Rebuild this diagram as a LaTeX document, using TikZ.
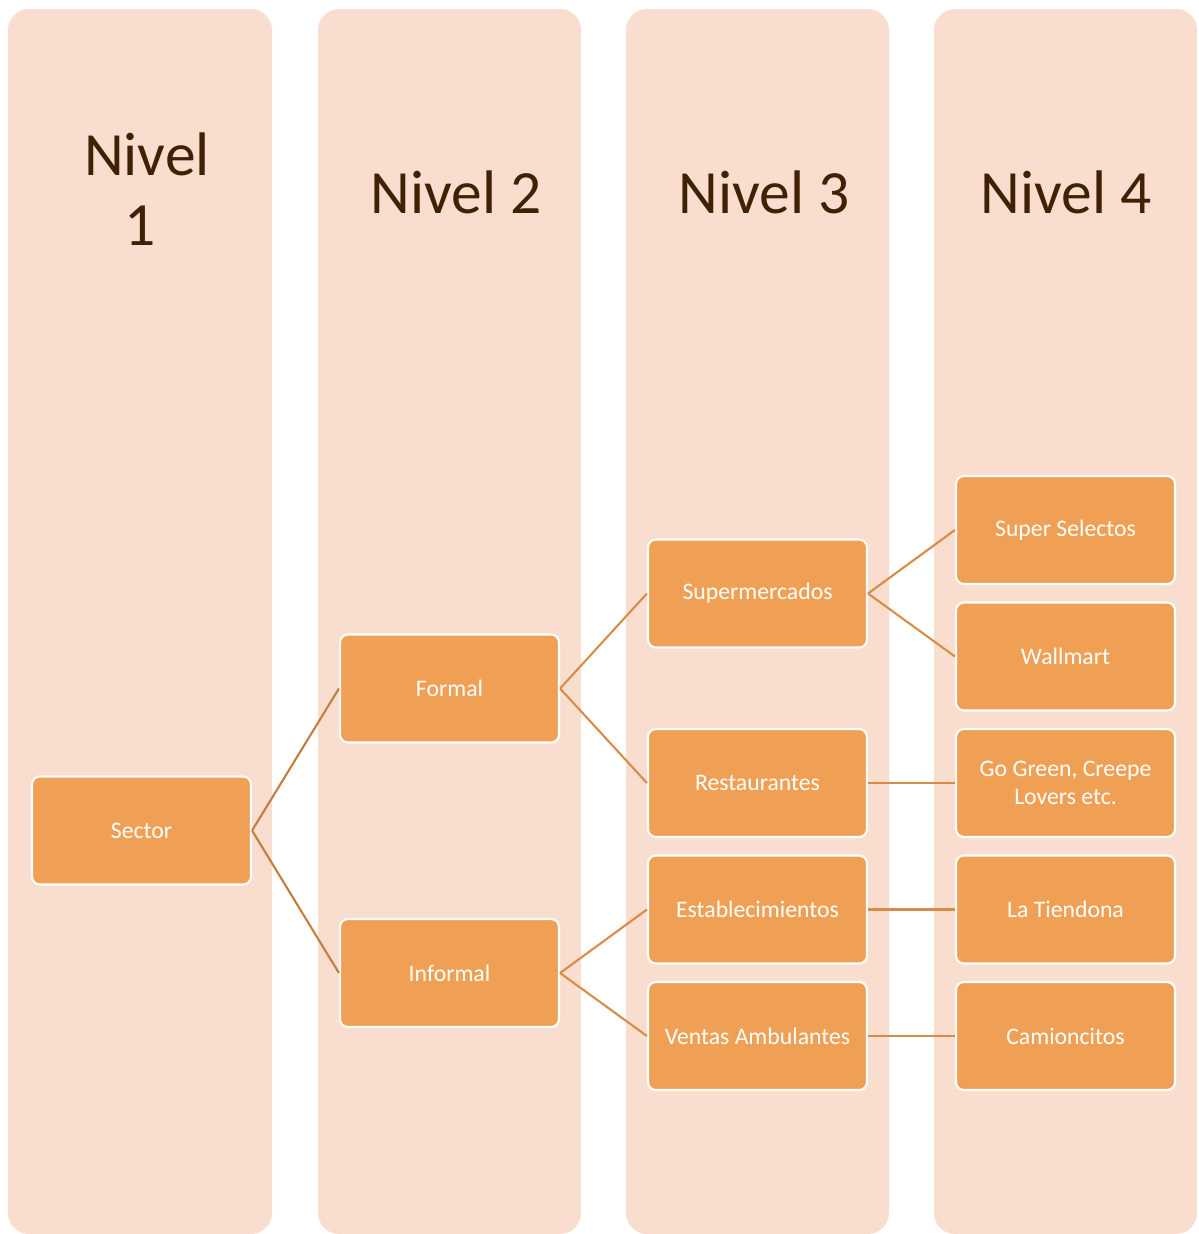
\documentclass[tikz,border=0pt]{standalone}
\usepackage{fontspec}
\setmainfont{Carlito}
\begin{document}
\definecolor{lanefill}{RGB}{249,222,208}
\definecolor{boxfill}{RGB}{240,160,84}
\definecolor{headtext}{RGB}{64,33,4}
\definecolor{linkA}{RGB}{196,126,62}
\definecolor{linkB}{RGB}{216,140,72}
\begin{tikzpicture}[x=0.02cm,y=-0.02cm,
  lane/.style={fill=lanefill,draw=none,rounded corners=12pt},
  head/.style={text=headtext,font=\fontsize{35}{40}\selectfont,align=center,inner sep=0pt},
  item/.style={rectangle,rounded corners=4.5pt,fill=boxfill,draw=white,line width=1.2pt,
    minimum width=219*0.02cm,minimum height=108*0.02cm,text=white,
    font=\fontsize{13.5}{15.5}\selectfont,align=center,inner sep=2pt},
  linkmain/.style={draw=linkA,line width=1.2pt},
  link/.style={draw=linkB,line width=1.2pt}]
\useasboundingbox (0,0) rectangle (1198,1234);
% the four level lanes
\fill[lane] (8,9) rectangle (272,1234);
\fill[lane] (318,9) rectangle (581,1234);
\fill[lane] (626,9) rectangle (889,1234);
\fill[lane] (934,9) rectangle (1197,1234);
% lane headings
\node[head] (h1) at (147,189) {Nivel\\[0pt]\mbox{1\kern0.28cm}};
\node[head] (h2) at (456,192) {Nivel 2};
\node[head] (h3) at (764,192) {Nivel 3};
\node[head] (h4) at (1066,192) {Nivel 4};
% level 1
\node[item] (sector) at (141.5,830.5) {Sector};
% level 2
\node[item] (formal) at (449.5,688.5) {Formal};
\node[item] (informal) at (449.5,973) {Informal};
% level 3
\node[item] (super) at (757.5,593.5) {Supermercados};
\node[item] (rest) at (757.5,783) {Restaurantes};
\node[item] (estab) at (757.5,909.5) {Establecimientos};
\node[item] (ventas) at (757.5,1036) {Ventas Ambulantes};
% level 4
\node[item] (selectos) at (1065.5,530) {Super Selectos};
\node[item] (wallmart) at (1065.5,656.5) {Wallmart};
\node[item] (gogreen) at (1065.5,783) {Go Green, Creepe\\Lovers etc.};
\node[item] (tiendona) at (1065.5,909.5) {La Tiendona};
\node[item] (camion) at (1065.5,1036) {Camioncitos};
% connectors
\draw[linkmain] (sector.east) -- (formal.west);
\draw[linkmain] (sector.east) -- (informal.west);
\draw[link] (formal.east) -- (super.west);
\draw[link] (formal.east) -- (rest.west);
\draw[link] (informal.east) -- (estab.west);
\draw[link] (informal.east) -- (ventas.west);
\draw[link] (super.east) -- (selectos.west);
\draw[link] (super.east) -- (wallmart.west);
\draw[link] (rest.east) -- (gogreen.west);
\draw[link] (estab.east) -- (tiendona.west);
\draw[link] (ventas.east) -- (camion.west);
\end{tikzpicture}
\end{document}
